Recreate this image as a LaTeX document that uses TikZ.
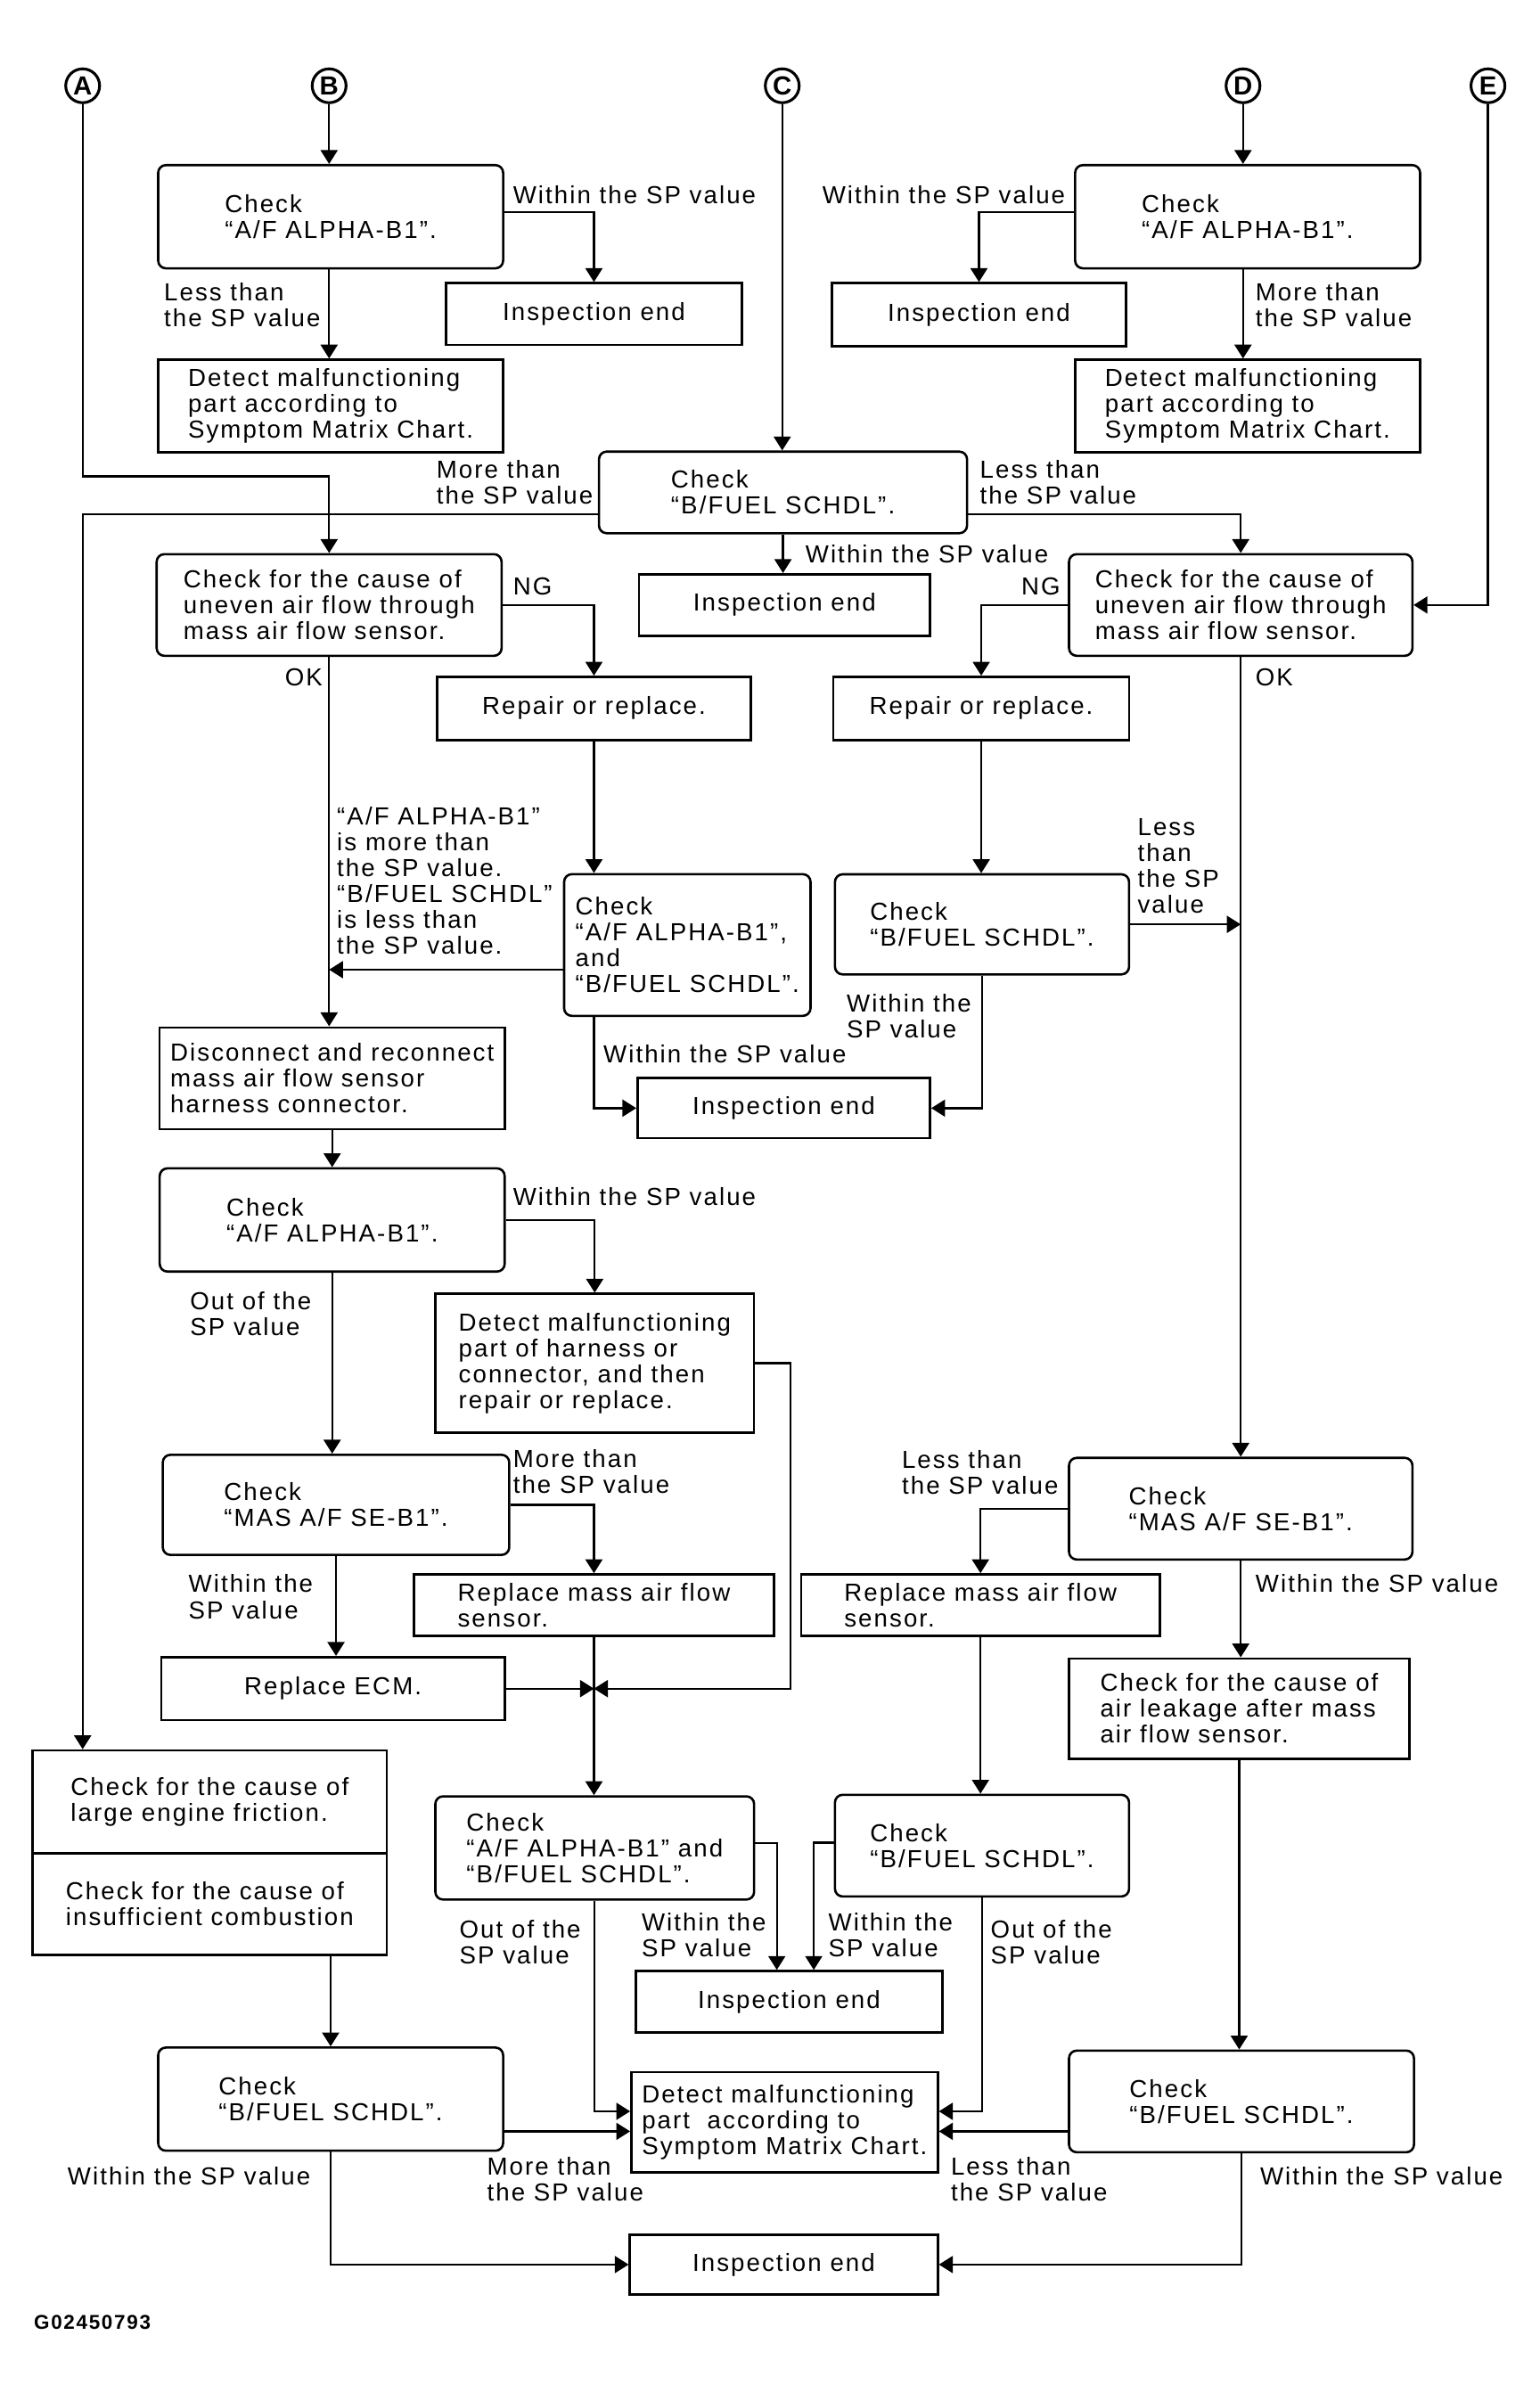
\documentclass[tikz,border=0pt]{standalone}
\usepackage{fontspec}
\setmainfont{Liberation Sans}[LetterSpace=7.5]
\usetikzlibrary{arrows.meta,positioning}

\tikzset{
  box/.style={draw, line width=1.5pt, inner sep=2pt, align=left, font=\fontsize{16}{16.8}\selectfont},
  rbox/.style={box, rounded corners=5pt},
  wh/.style 2 args={minimum width=#1pt, minimum height=#2pt},
  lbl/.style={inner sep=0pt, anchor=west, align=left, font=\fontsize{16}{16.8}\selectfont},
  conn/.style={circle, draw, line width=1.8pt, minimum size=22pt, inner sep=0pt, font=\bfseries\fontsize{17}{17}\selectfont},
  arr/.style={line width=1.3pt, -{Triangle[length=9pt,width=11pt]}},
}

\begin{document}
\begin{tikzpicture}[x=0.994pt,y=-0.9945pt]
  \useasboundingbox (0,0) rectangle (1006,1567.6);

  % connettori
  \node[conn] (A) at (54,56) {A};
  \node[conn] (B) at (215,56) {B};
  \node[conn] (C) at (511,56) {C};
  \node[conn] (D) at (812,56) {D};
  \node[conn] (E) at (972,56) {E};

  % ramo B
  \node[rbox, wh={224}{67}] (b1) at (216,141.5) {Check\\“A/F ALPHA-B1”.};
  \node[box, wh={192}{40}] (ieB) at (388,205) {Inspection end};
  \node[box, wh={224}{60}] (detB) at (216,265) {Detect malfunctioning\\part according to\\Symptom Matrix Chart.};
  \draw[arr] (B) -- (B |- b1.north);
  \draw[arr] ([yshift=3pt]b1.east) -| (ieB.north);
  \draw[arr] (b1.south -| B) -- (detB.north -| B);
  \node[lbl] (t1) at (335,127) {Within the SP value};
  \node[lbl] (t2) at (107,199) {Less than\\the SP value};

  % ramo D
  \node[rbox, wh={224}{67}] (d1) at (815,141.5) {Check\\“A/F ALPHA-B1”.};
  \node[box, wh={191}{41}] (ieD) at (639.5,205.5) {Inspection end};
  \node[box, wh={224}{60}] (detD) at (815,265) {Detect malfunctioning\\part according to\\Symptom Matrix Chart.};
  \draw[arr] (D) -- (D |- d1.north);
  \draw[arr] ([yshift=3pt]d1.west) -| (ieD.north);
  \draw[arr] (d1.south -| D) -- (detD.north -| D);
  \node[lbl] (t3) at (537,127) {Within the SP value};
  \node[lbl] (t4) at (820,199) {More than\\the SP value};

  % ramo C
  \node[rbox, wh={239}{53}] (c1) at (511.5,321.5) {Check\\“B/FUEL SCHDL”.};
  \node[box, wh={189}{40}] (ieC) at (512.5,395) {Inspection end};
  \draw[arr] (C) -- (C |- c1.north);
  \draw[arr] (c1.south) -- (c1.south |- ieC.north);
  \node[lbl] (t5) at (285,315) {More than\\the SP value};
  \node[lbl] (t6) at (640,315) {Less than\\the SP value};
  \node[lbl] (t7) at (526,362) {Within the SP value};

  % flusso d'aria, sinistra
  \node[rbox, wh={224}{66}] (l2) at (215,395) {Check for the cause of\\uneven air flow through\\mass air flow sensor.};
  \node[box, wh={204}{41}] (repL) at (388,462.5) {Repair or replace.};
  \node[rbox, wh={160}{92}] (l3) at (449,617) {Check\\“A/F ALPHA-B1”,\\and\\“B/FUEL SCHDL”.};
  \node[box, wh={190}{39}] (ieM) at (512,723.5) {Inspection end};
  \draw[arr] (A) -- ++(0,255) -| (l2.north);
  \draw[arr] (l2.east) -| (repL.north);
  \draw[arr] (repL.south) -- (repL.south |- l3.north);
  \draw[arr] ([yshift=-16pt]l3.west) -- ([yshift=-16pt]l3.west -| l2.south);
  \draw[arr] (l3.south -| repL.south) |- (ieM.west);
  \node[lbl] (t8) at (335,383) {NG};
  \node[lbl] (t10) at (186,442) {OK};
  \node[lbl] (t12) at (220,575) {“A/F ALPHA-B1”\\is more than\\the SP value.\\“B/FUEL SCHDL”\\is less than\\the SP value.};
  \node[lbl] (t13) at (394,688) {Within the SP value};

  % flusso d'aria, destra
  \node[rbox, wh={223}{66}] (r2) at (810.5,395) {Check for the cause of\\uneven air flow through\\mass air flow sensor.};
  \node[box, wh={192}{41}] (repR) at (641,462.5) {Repair or replace.};
  \node[rbox, wh={191}{65}] (r3) at (641.5,603.5) {Check\\“B/FUEL SCHDL”.};
  \draw[arr] ([yshift=-14pt]c1.east) -| (r2.north);
  \draw[arr] (E) |- (r2.east);
  \draw[arr] (r2.west) -| (repR.north);
  \draw[arr] (repR.south) -- (repR.south |- r3.north);
  \draw[arr] (r3.east) -- (r3.east -| r2.south);
  \draw[arr] (r3.south) |- (ieM.east);
  \node[lbl] (t9) at (667,383) {NG};
  \node[lbl] (t11) at (820,442) {OK};
  \node[lbl] (t14) at (743,565.5) {Less\\than\\the SP\\value};
  \node[lbl] (t15) at (553,663.5) {Within the\\SP value};

  % colonna sinistra
  \node[box, wh={224}{66}] (disc) at (217,704) {Disconnect and reconnect\\mass air flow sensor\\harness connector.};
  \node[rbox, wh={224}{67}] (l4) at (217,796.5) {Check\\“A/F ALPHA-B1”.};
  \node[box, wh={207}{90}] (har) at (388.5,890) {Detect malfunctioning\\part of harness or\\connector, and then\\repair or replace.};
  \node[rbox, wh={225}{65}] (l5) at (219.5,982.5) {Check\\“MAS A/F SE-B1”.};
  \node[box, wh={234}{40}] (maf) at (388,1048) {Replace mass air flow\\sensor.};
  \node[box, wh={223}{41}] (ecm) at (217.5,1102.5) {Replace ECM.};
  \coordinate (jn) at (maf.south |- ecm.east);
  \draw[arr] (l2.south) -- (l2.south |- disc.north);
  \draw[arr] (disc.south) -- (disc.south |- l4.north);
  \draw[arr] (l4.east) -| (har.north);
  \draw[arr] (l4.south) -- (l4.south |- l5.north);
  \draw[arr] (l5.east) -| (maf.north);
  \draw[arr] (l5.south) -- (l5.south |- ecm.north);
  \draw[arr] (ecm.east) -- (jn);
  \draw[arr] (har.east) -- ++(23,0) |- (jn);
  \node[lbl] (t16) at (335,781) {Within the SP value};
  \node[lbl] (t17) at (124,857.5) {Out of the\\SP value};
  \node[lbl] (t18) at (335,961) {More than\\the SP value};
  \node[lbl] (t19) at (123,1042.5) {Within the\\SP value};

  % colonna destra
  \node[rbox, wh={223}{66}] (r5) at (810.5,985) {Check\\“MAS A/F SE-B1”.};
  \node[box, wh={233}{40}] (mafR) at (640.5,1048) {Replace mass air flow\\sensor.};
  \node[box, wh={221}{65}] (leak) at (809.5,1115.5) {Check for the cause of\\air leakage after mass\\air flow sensor.};
  \draw[arr] (r2.south) -- (r2.south |- r5.north);
  \draw[arr] (r5.west) -| (mafR.north);
  \draw[arr] (r5.south) -- (r5.south |- leak.north);
  \node[lbl] (t20) at (589,961.5) {Less than\\the SP value};
  \node[lbl] (t21) at (820,1034) {Within the SP value};

  % parte bassa
  \node[box, wh={230}{67}] (fric) at (137,1176.5) {Check for the cause of\\large engine friction.};
  \node[box, wh={230}{66}] (comb) at (137,1243) {Check for the cause of\\insufficient combustion};
  \node[rbox, wh={207}{67}] (l6) at (388.5,1206.5) {Check\\“A/F ALPHA-B1” and\\“B/FUEL SCHDL”.};
  \node[rbox, wh={191}{66}] (r6) at (641.5,1205) {Check\\“B/FUEL SCHDL”.};
  \node[box, wh={199}{40}] (ieL) at (515.5,1307) {Inspection end};
  \node[box, wh={199}{65}] (detL) at (512.5,1385.5) {Detect malfunctioning\\part\ \ according to\\Symptom Matrix Chart.};
  \node[rbox, wh={224}{67}] (l7) at (216,1370.5) {Check\\“B/FUEL SCHDL”.};
  \node[rbox, wh={224}{66}] (r7) at (811,1372) {Check\\“B/FUEL SCHDL”.};
  \node[box, wh={200}{39}] (ieB2) at (512,1478.5) {Inspection end};
  \draw[arr] ([yshift=-14pt]c1.west) -| (A |- fric.north);
  \draw[arr] (maf.south) -- (maf.south |- l6.north);
  \draw[arr] (mafR.south) -- (mafR.south |- r6.north);
  \draw[arr] (leak.south) -- (leak.south |- r7.north);
  \draw[arr] (comb.south -| l7.north) -- (l7.north);
  \draw[arr] ([yshift=3pt]l6.east) -| ([xshift=-8pt]ieL.north);
  \draw[arr] ([yshift=2pt]r6.west) -| ([xshift=16pt]ieL.north);
  \draw[arr] (l6.south) |- ([yshift=7pt]detL.west);
  \draw[arr] (r6.south) |- ([yshift=7pt]detL.east);
  \draw[arr] ([yshift=-6pt]detL.west -| l7.east) -- ([yshift=-6pt]detL.west);
  \draw[arr] ([yshift=-6pt]detL.east -| r7.west) -- ([yshift=-6pt]detL.east);
  \draw[arr] (l7.south) |- (ieB2.west);
  \draw[arr] (r7.south) |- (ieB2.east);
  \node[lbl] (t22) at (419,1263.5) {Within the\\SP value};
  \node[lbl] (t23) at (300,1268) {Out of the\\SP value};
  \node[lbl] (t24) at (541,1263.5) {Within the\\SP value};
  \node[lbl] (t25) at (647,1268) {Out of the\\SP value};
  \node[lbl] (t26) at (318,1422.5) {More than\\the SP value};
  \node[lbl] (t27) at (44,1421) {Within the SP value};
  \node[lbl] (t28) at (621,1422.5) {Less than\\the SP value};
  \node[lbl] (t29) at (823,1421) {Within the SP value};

  \node[lbl, font=\bfseries\fontsize{13}{13}\selectfont] (fig) at (22,1516) {G02450793};
\end{tikzpicture}
\end{document}
